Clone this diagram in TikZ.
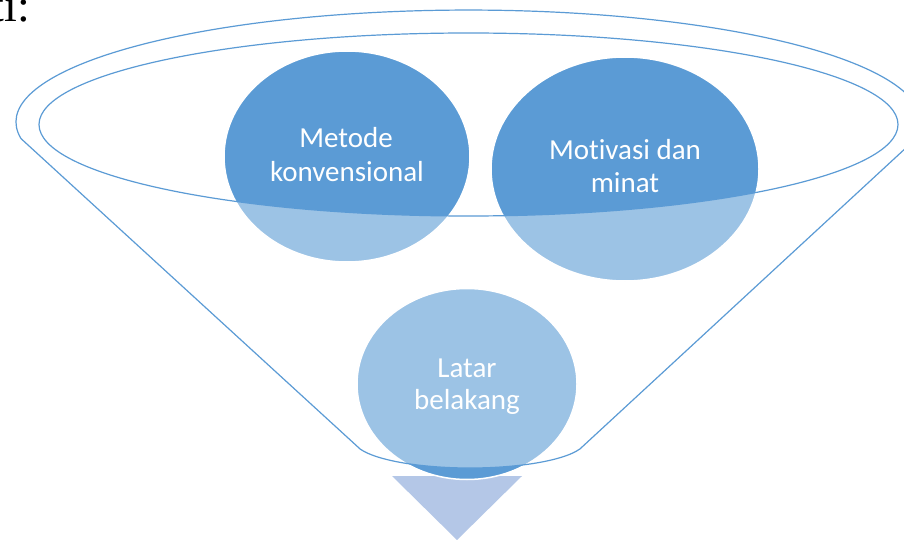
\documentclass[tikz,border=0pt]{standalone}
\usepackage{fontspec}
\setmainfont[RawFeature={-liga;-clig;-dlig}]{Carlito}
\newfontfamily\timesf{Liberation Serif}
\usetikzlibrary{shapes.geometric}
\definecolor{bluedark}{HTML}{5B9BD5}
\definecolor{bluetri}{HTML}{B4C7E7}
\tikzset{
  blob/.style={ellipse, inner sep=0pt, fill=bluedark, draw=white, line width=1.5pt},
  lbl/.style={anchor=base, text=white, font=\fontsize{29}{35}\selectfont, inner sep=0pt},
  funnelline/.style={draw=bluedark, line width=1.2pt},
}
\begin{document}
\begin{tikzpicture}[x=1pt,y=-1pt]
\clip (0,0) rectangle (904,540);
\fill[white] (0,0) rectangle (904,540);
% output arrow triangle
\fill[bluetri] (392,476) -- (522,476) -- (457,540) -- cycle;
% circles
\node[blob, minimum width=246pt, minimum height=211pt] (metode) at (347,156.5) {};
\node[blob, minimum width=268pt, minimum height=224pt] (motivasi) at (625,169) {};
\node[blob, minimum width=220pt, minimum height=191pt] (latar) at (467,384) {};
% translucent funnel body
\fill[white, fill opacity=0.4, even odd rule]
  (21,138.6) arc[start angle=171.5, end angle=368.5, x radius=452.5, y radius=112]
  -- (580,448.9) arc[start angle=18.5, end angle=161.5, x radius=116, y radius=28] -- cycle
  (468.5,124.5) ellipse [x radius=429.5, y radius=91.5];
% funnel outlines
\draw[funnelline]
  (21,138.6) arc[start angle=171.5, end angle=368.5, x radius=452.5, y radius=112]
  -- (580,448.9) arc[start angle=18.5, end angle=161.5, x radius=116, y radius=28] -- cycle;
\draw[funnelline] (468.5,124.5) ellipse [x radius=429.5, y radius=91.5];
% labels
\node[lbl] (metode1) at (346,148) {Metode};
\node[lbl] (metode2) at (347,182) {konvensional};
\node[lbl] (motivasi1) at (625,160) {Motivasi dan};
\node[lbl] (motivasi2) at (625,193) {minat};
\node[lbl] (latar1) at (467,377) {Latar};
\node[lbl] (latar2) at (467,409) {belakang};
% cut-off text at top-left
\node[anchor=base west, inner sep=0pt, font=\timesf\fontsize{46}{50}\selectfont] (ti) at (-8.3,22) {ti:};
\end{tikzpicture}
\end{document}
